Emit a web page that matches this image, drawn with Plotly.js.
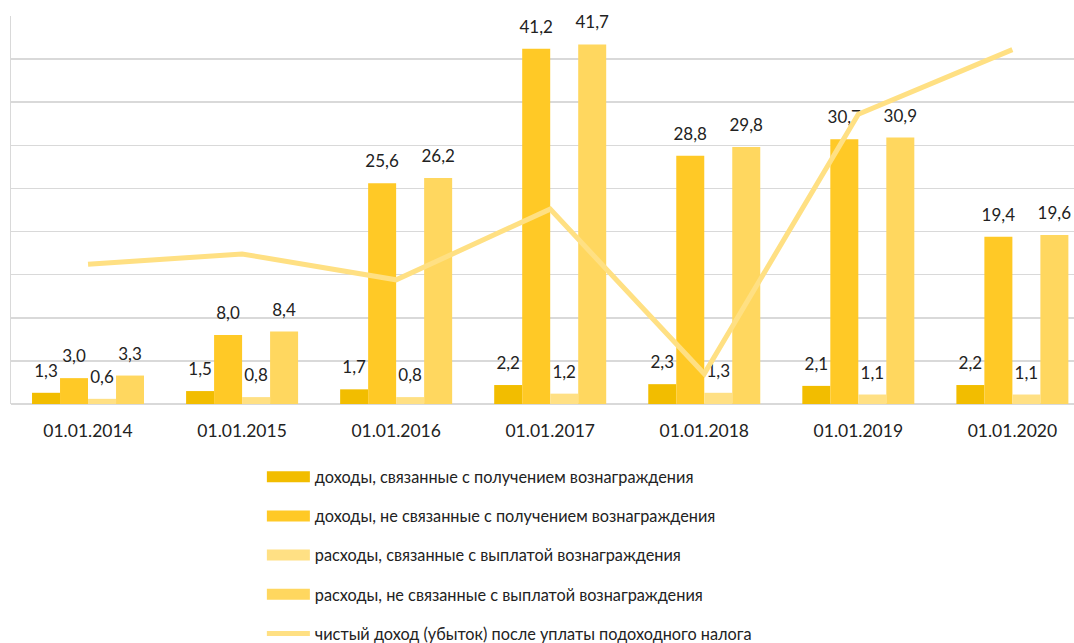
<!DOCTYPE html>
<html>
<head>
<meta charset="utf-8">
<script src="https://cdn.plot.ly/plotly-3.0.1.min.js"></script>
<style>html,body{margin:0;padding:0;background:#fff;}#chart{width:1074px;height:643px;}</style>
</head>
<body>
<div id="chart"></div>
<script>
const categories = ["01.01.2014","01.01.2015","01.01.2016","01.01.2017","01.01.2018","01.01.2019","01.01.2020"];
const seriesNames = [
  "доходы, связанные с получением вознаграждения",
  "доходы, не связанные с получением вознаграждения",
  "расходы, связанные с выплатой вознаграждения",
  "расходы, не связанные с выплатой вознаграждения",
  "чистый доход (убыток) после уплаты подоходного налога"
];
const incomeReward = [1.3, 1.5, 1.7, 2.2, 2.3, 2.1, 2.2];
const incomeNonReward = [3.0, 8.0, 25.6, 41.2, 28.8, 30.7, 19.4];
const expenseReward = [0.6, 0.8, 0.8, 1.2, 1.3, 1.1, 1.1];
const expenseNonReward = [3.3, 8.4, 26.2, 41.7, 29.8, 30.9, 19.6];
const netIncome = [16.2, 17.4, 14.4, 22.6, 3.5, 33.6, 41.1];

const colors = ["#F2BD00", "#FFC926", "#FFE084", "#FFD75F", "#FFE083"];
const font = "Lato, 'Open Sans', sans-serif";

function barTrace(name, vals, color, i) {
  return {
    type: "bar", name: name, x: categories, y: vals,
    marker: {color: color},
    texttemplate: "%{y:.1f}", textposition: "outside",
    constraintext: "none", cliponaxis: false,
    textfont: {family: font, size: 17, color: "#222"},
    legendgroup: "g" + i, hoverinfo: "skip"
  };
}
const data = [
  barTrace(seriesNames[0], incomeReward, colors[0], 0),
  barTrace(seriesNames[1], incomeNonReward, colors[1], 1),
  barTrace(seriesNames[2], expenseReward, colors[2], 2),
  barTrace(seriesNames[3], expenseNonReward, colors[3], 3),
  {
    type: "scatter", mode: "lines", name: seriesNames[4], x: categories, y: netIncome,
    line: {color: colors[4], width: 5}, legendgroup: "g4", cliponaxis: false, hoverinfo: "skip"
  }
];
const layout = {
  width: 1074, height: 643,
  margin: {l: 10.6, r: 0, t: 15.5, b: 238.5},
  paper_bgcolor: "#fff", plot_bgcolor: "#fff",
  separators: ", ",
  barmode: "group", bargap: 0.273, bargroupgap: 0,
  showlegend: true,
  font: {family: font, color: "#222"},
  xaxis: {
    type: "category", range: [-0.5, 6.4], showgrid: false, zeroline: false,
    showline: false, ticks: "", tickfont: {family: font, size: 17.5, color: "#222"},
    ticklabelstandoff: 14
  },
  yaxis: {
    range: [0, 45], dtick: 5, showticklabels: false, showgrid: true,
    gridcolor: "#D9D9D9", gridwidth: 1.5, zeroline: true, zerolinecolor: "#D9D9D9", zerolinewidth: 1.5,
    showline: true, linecolor: "#D9D9D9", linewidth: 1.5
  },
  legend: {
    orientation: "v", xref: "paper", x: 0.236, xanchor: "left",
    yref: "container", y: 0.2852, yanchor: "top",
    font: {family: font, size: 16.3, color: "#222"},
    traceorder: "grouped", tracegroupgap: 15, itemwidth: 43,
    bgcolor: "rgba(0,0,0,0)"
  }
};
Plotly.newPlot("chart", data, layout, {displayModeBar: false, staticPlot: true}).then(function (gd) {
  // lift bar value labels a little, as in the original
  gd.querySelectorAll("text.bartext").forEach(function (t) {
    const tr = t.getAttribute("transform") || "";
    t.setAttribute("transform", "translate(0,-9) " + tr);
  });
  // wide rectangular legend swatches
  gd.querySelectorAll("g.legendpoints path.legendbar, g.legendpoints path.legendundefined").forEach(function (p) {
    p.setAttribute("d", "M21.5,5.5H-21.5V-5.5H21.5Z");
  });
});
</script>
</body>
</html>
